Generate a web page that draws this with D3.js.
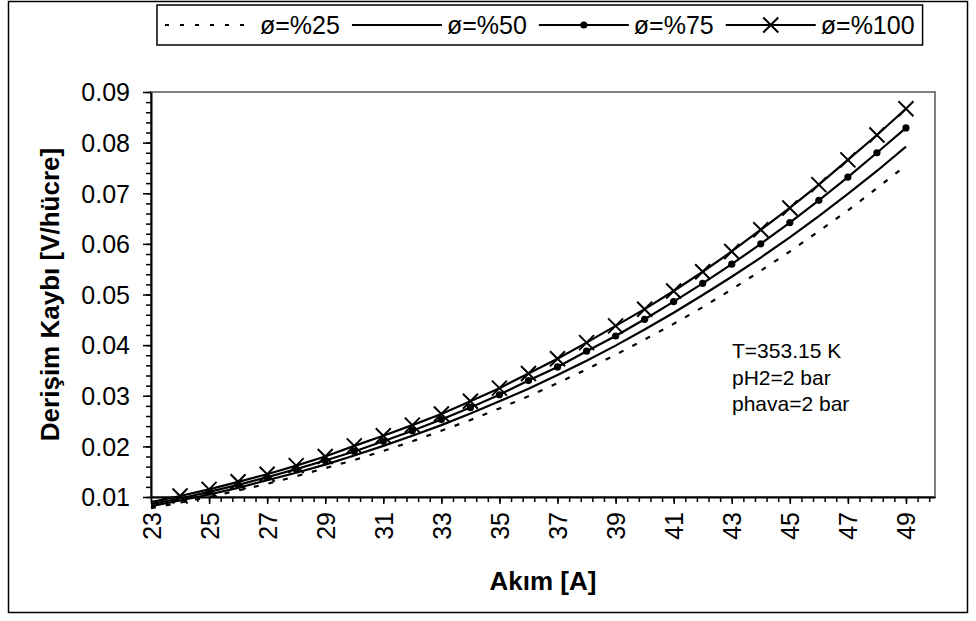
<!DOCTYPE html>
<html>
<head>
<meta charset="utf-8">
<script src="https://cdn.jsdelivr.net/npm/d3@7"></script>
<style>
  html, body { margin: 0; padding: 0; background: #fff; }
  svg { display: block; font-family: "Liberation Sans", Arial, sans-serif; }
</style>
</head>
<body>
<div id="chart"></div>
<script>
// ── Data ────────────────────────────────────────────────────────────────────
const currents = [23, 24, 25, 26, 27, 28, 29, 30, 31, 32, 33, 34, 35, 36, 37, 38, 39, 40, 41, 42, 43, 44, 45, 46, 47, 48, 49];
const phi25  = [0.0078, 0.0089, 0.0100, 0.0113, 0.0126, 0.0141, 0.0157, 0.0173, 0.0191, 0.0210, 0.0231, 0.0252, 0.0275, 0.0299, 0.0325, 0.0352, 0.0381, 0.0411, 0.0442, 0.0475, 0.0510, 0.0547, 0.0585, 0.0625, 0.0666, 0.0710, 0.0755];
const phi50  = [0.0082, 0.0093, 0.0105, 0.0118, 0.0133, 0.0148, 0.0164, 0.0182, 0.0201, 0.0221, 0.0242, 0.0265, 0.0289, 0.0314, 0.0341, 0.0369, 0.0399, 0.0431, 0.0464, 0.0499, 0.0535, 0.0573, 0.0613, 0.0655, 0.0699, 0.0744, 0.0792];
const phi75  = [0.0086, 0.0097, 0.0110, 0.0124, 0.0139, 0.0155, 0.0172, 0.0190, 0.0210, 0.0231, 0.0253, 0.0277, 0.0302, 0.0330, 0.0357, 0.0388, 0.0418, 0.0451, 0.0486, 0.0522, 0.0560, 0.0600, 0.0642, 0.0686, 0.0732, 0.0780, 0.0829];
const phi100 = [0.0090, 0.0102, 0.0115, 0.0130, 0.0145, 0.0162, 0.0180, 0.0201, 0.0221, 0.0242, 0.0264, 0.0289, 0.0315, 0.0344, 0.0373, 0.0405, 0.0438, 0.0471, 0.0507, 0.0545, 0.0585, 0.0628, 0.0671, 0.0717, 0.0766, 0.0815, 0.0867];
const seriesNames = ["ø=%25", "ø=%50", "ø=%75", "ø=%100"];
const xTicks = [23, 25, 27, 29, 31, 33, 35, 37, 39, 41, 43, 45, 47, 49];
const yTicks = [0.01, 0.02, 0.03, 0.04, 0.05, 0.06, 0.07, 0.08, 0.09];
const notes = ["T=353.15 K", "pH2=2 bar", "phava=2 bar"];

const W = 976, H = 621;
const plot = { left: 151, right: 935, top: 92, bottom: 497 };

const svg = d3.select("#chart").append("svg").attr("width", W).attr("height", H);
svg.append("rect").attr("width", W).attr("height", H).attr("fill", "#fff");

// chart area border
svg.append("rect")
  .attr("x", 8.5).attr("y", 1.5).attr("width", 959).attr("height", 611)
  .attr("fill", "none").attr("stroke", "#000").attr("stroke-width", 1.5);

const x = d3.scaleLinear().domain([23, 50]).range([plot.left, plot.right]);
const y = d3.scaleLinear().domain([0.01, 0.09]).range([plot.bottom, plot.top]);

// plot area frame (grey)
svg.append("rect")
  .attr("x", plot.left).attr("y", plot.top)
  .attr("width", plot.right - plot.left).attr("height", plot.bottom - plot.top)
  .attr("fill", "none").attr("stroke", "#808080").attr("stroke-width", 2);

// ── Axes ────────────────────────────────────────────────────────────────────
const xMinor = d3.range(23, 50.001, 0.4);
const yMinor = d3.range(0.01, 0.0901, 0.002);

svg.append("g").attr("transform", `translate(0,${plot.bottom})`)
  .call(d3.axisBottom(x).tickValues(xMinor).tickSize(5).tickFormat(""))
  .call((g) => g.select(".domain").remove())
  .call((g) => g.selectAll("line").attr("stroke", "#000").attr("stroke-width", 1.5));

const xAxis = svg.append("g").attr("transform", `translate(0,${plot.bottom})`)
  .call(d3.axisBottom(x).tickValues(xTicks).tickSize(7).tickSizeOuter(0).tickFormat(d3.format("d")));
xAxis.select(".domain").attr("stroke", "#000").attr("stroke-width", 2);
xAxis.selectAll("line").attr("stroke", "#000").attr("stroke-width", 1.5);
xAxis.selectAll("text")
  .attr("font-size", "25px").attr("fill", "#000")
  .attr("font-family", "'Liberation Sans', Arial, sans-serif")
  .attr("text-anchor", "end")
  .attr("transform", "rotate(-90)")
  .attr("x", -15).attr("y", 0).attr("dy", "0.36em");

svg.append("g").attr("transform", `translate(${plot.left},0)`)
  .call(d3.axisLeft(y).tickValues(yMinor).tickSize(5).tickFormat(""))
  .call((g) => g.select(".domain").remove())
  .call((g) => g.selectAll("line").attr("stroke", "#000").attr("stroke-width", 1.5));

const yAxis = svg.append("g").attr("transform", `translate(${plot.left},0)`)
  .call(d3.axisLeft(y).tickValues(yTicks).tickSize(8).tickSizeOuter(0).tickFormat(d3.format(".2f")));
yAxis.select(".domain").attr("stroke", "#000").attr("stroke-width", 2);
yAxis.selectAll("line").attr("stroke", "#000").attr("stroke-width", 1.5);
yAxis.selectAll("text")
  .attr("font-size", "25px").attr("fill", "#000")
  .attr("font-family", "'Liberation Sans', Arial, sans-serif")
  .attr("x", -21).attr("dy", "0.35em");

// axis titles
svg.append("text")
  .attr("x", (plot.left + plot.right) / 2).attr("y", 590)
  .attr("text-anchor", "middle").attr("font-size", "26px").attr("font-weight", "bold")
  .text("Akım [A]");

svg.append("text")
  .attr("transform", `translate(59,${(plot.top + plot.bottom) / 2}) rotate(-90)`)
  .attr("text-anchor", "middle").attr("font-size", "26px").attr("font-weight", "bold")
  .text("Derişim Kaybı [V/hücre]");

// ── Series ──────────────────────────────────────────────────────────────────
const series = [
  { name: seriesNames[0], values: phi25, dash: "5,10", marker: null },
  { name: seriesNames[1], values: phi50, dash: null, marker: null },
  { name: seriesNames[2], values: phi75, dash: null, marker: "dot" },
  { name: seriesNames[3], values: phi100, dash: null, marker: "cross" },
];

const line = d3.line().x((d) => x(d[0])).y((d) => y(d[1]));

function drawMarker(g, type, cx, cy) {
  if (type === "dot") {
    g.append("circle").attr("cx", cx).attr("cy", cy).attr("r", 3.6).attr("fill", "#000");
  } else if (type === "cross") {
    const s = 7.5;
    g.append("path")
      .attr("d", `M${cx - s},${cy - s}L${cx + s},${cy + s}M${cx - s},${cy + s}L${cx + s},${cy - s}`)
      .attr("stroke", "#000").attr("stroke-width", 2).attr("fill", "none");
  }
}

for (const s of series) {
  const pts = currents.map((c, i) => [c, s.values[i]]);
  svg.append("path")
    .attr("d", line(pts))
    .attr("fill", "none").attr("stroke", "#000").attr("stroke-width", 2.2)
    .attr("stroke-dasharray", s.dash);
  if (s.marker) {
    const mg = svg.append("g");
    for (const p of pts) {
      if (p[1] < 0.01) continue;
      drawMarker(mg, s.marker, x(p[0]), y(p[1]));
    }
  }
}

// ── Annotation ──────────────────────────────────────────────────────────────
svg.append("g").selectAll("text").data(notes).join("text")
  .attr("x", 732).attr("y", (d, i) => 358 + i * 26.5)
  .attr("font-size", "21px").attr("fill", "#000")
  .text((d) => d);

// ── Legend ──────────────────────────────────────────────────────────────────
const legend = svg.append("g");
const legendBox = legend.append("rect")
  .attr("x", 157).attr("y", 5).attr("height", 40)
  .attr("fill", "#fff").attr("stroke", "#000").attr("stroke-width", 1.5);

let lx = 165;
const ly = 25;
for (const s of series) {
  legend.append("line")
    .attr("x1", lx).attr("x2", lx + 90).attr("y1", ly).attr("y2", ly)
    .attr("stroke", "#000").attr("stroke-width", 2.2)
    .attr("stroke-dasharray", s.dash === null ? null : "4,11");
  if (s.marker) drawMarker(legend, s.marker, lx + 45, ly);
  const t = legend.append("text")
    .attr("x", lx + 95).attr("y", ly).attr("dy", "0.36em")
    .attr("font-size", "25px").text(s.name);
  lx += 95 + t.node().getComputedTextLength() + 12;
}
legendBox.attr("width", lx - 4 - 157);
</script>
</body>
